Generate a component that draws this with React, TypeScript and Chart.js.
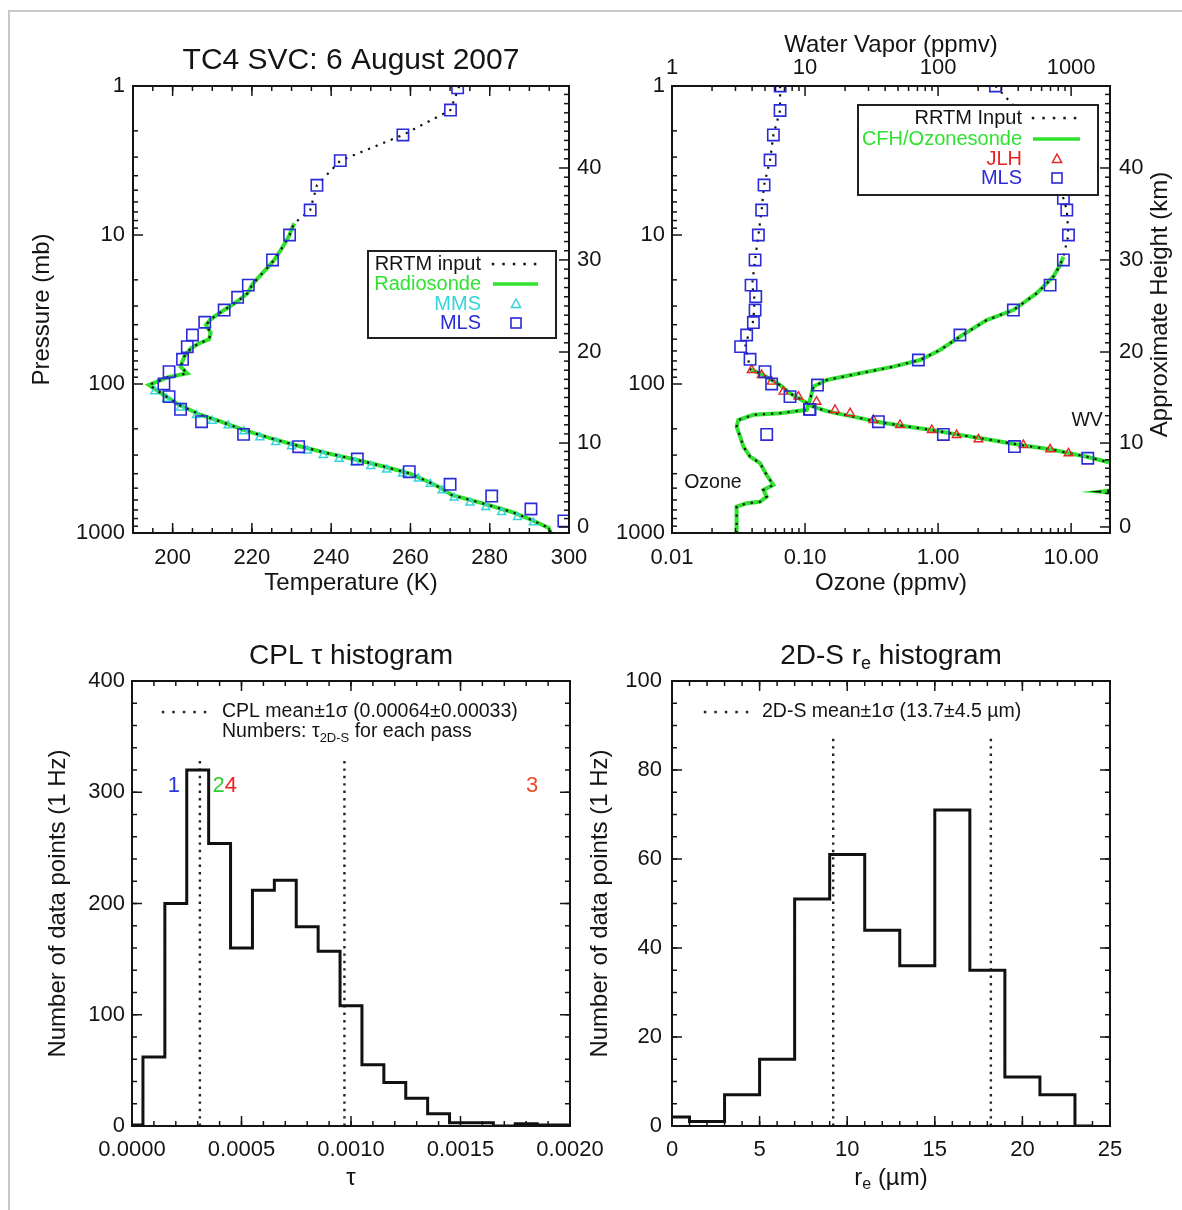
import React, { useEffect, useRef } from "react";
import { Chart, registerables } from "chart.js";

Chart.register(...registerables);

const FONT = '"Liberation Sans", Arial, Helvetica, sans-serif';
const INK = "#141414";
const BLUE = "#2a2ad8";
const GREEN = "#2fe22f";
const CYAN = "#36d4dc";
const RED = "#e82424";

// ================= Panel A : temperature profile =================
const tempTicks = [200, 220, 240, 260, 280, 300];
const tempTickLabels = ["200", "220", "240", "260", "280", "300"];
const pressureTicks = [1, 10, 100, 1000];
const pressureTickLabels = ["1", "10", "100", "1000"];
const heightKm = [0, 10, 20, 30, 40];
const heightPressure = [911, 249, 61, 14.7, 3.55];

const mlsTempP = [1.03, 1.45, 2.13, 3.17, 4.64, 6.8, 10, 14.7, 21.7, 26.2, 31.9, 38.5, 46.9, 56.2, 68.3, 82.7, 100, 121.6, 147.9, 179, 217.8, 263.5, 318.7, 387.8, 471, 565, 690, 830];
const mlsTempT = [271.9, 270.1, 258.1, 242.3, 236.4, 234.7, 229.5, 225.2, 219.1, 216.4, 213.0, 208.1, 205.0, 203.7, 202.5, 199.1, 197.8, 199.1, 202.0, 207.3, 217.9, 231.8, 246.6, 259.7, 270.0, 280.5, 290.4, 298.7];

const sondeP = [8.35, 9.0, 10, 11.5, 13.1, 14.7, 16.5, 19.1, 21.3, 24.6, 27.3, 30.3, 33.6, 36.8, 40.2, 45.2, 50.1, 53.3, 57.6, 65.6, 76.5, 84.8, 90.2, 101.6, 118.6, 138, 161.4, 179, 203.5, 231.7, 260.6, 291.9, 323.7, 359, 398, 453, 501, 556, 630, 723, 818, 925, 1000];
const sondeT = [230.7, 230.1, 229.5, 228.2, 226.9, 225.6, 224.0, 221.8, 220.2, 218.9, 216.8, 214.3, 211.7, 209.6, 208.4, 209.6, 209.2, 206.7, 204.6, 202.9, 202.0, 203.7, 198.7, 194.0, 197.8, 201.6, 207.1, 212.2, 217.9, 224.8, 231.8, 239.2, 246.6, 253.5, 259.7, 264.5, 267.8, 270.4, 278.0, 285.6, 290.6, 294.9, 295.4];

const rrtmTopP = [1.0, 1.45, 2.13, 3.17, 4.64, 6.8];
const rrtmTopT = [272.3, 270.1, 258.1, 242.3, 236.4, 234.7];

const mmsP = [112, 126, 144, 162, 177, 190, 208, 228, 246, 262, 280, 300, 318, 336, 356, 376, 400, 432, 468, 518, 580, 625, 672, 724, 782, 850];
const mmsT = [195.5, 198.5, 202, 206, 210, 214, 218, 222, 226, 230, 234, 238, 242, 246, 250, 254, 258, 262, 265, 268, 271, 275, 279, 283, 287, 291];

// ================= Panel B : ozone & water vapour =================
const o3Ticks = [0.01, 0.1, 1, 10];
const o3TickLabels = ["0.01", "0.10", "1.00", "10.00"];
const wvTicks = [1, 10, 100, 1000];
const wvTickLabels = ["1", "10", "100", "1000"];

const mlsWvP = [1.0, 1.46, 2.13, 3.14, 4.62, 6.8, 10, 14.7, 21.7, 25.9, 31.9, 38.7, 46.9, 56.1, 68.3, 82.7, 100, 121.6, 148, 179, 218, 263, 315];
const mlsWv = [6.5, 6.49, 5.78, 5.46, 4.92, 4.72, 4.46, 4.21, 3.93, 4.26, 4.21, 4.09, 3.64, 3.28, 3.86, 5.0, 5.61, 7.71, 10.9, 35.6, 109.6, 375, 1334];

const jlhP = [80.5, 87, 96.4, 112.5, 121.6, 131.5, 149.4, 157, 174.4, 188.5, 203.5, 220, 235, 256.6, 274.4, 291.9];
const jlhWv = [3.97, 4.72, 5.61, 6.87, 8.91, 12.2, 16.8, 21.8, 32.6, 51.8, 89.6, 138, 201, 438, 695, 955];

const cfhWvP = [79.7, 84.8, 92.5, 101.6, 115.6, 128, 140.6, 149.4, 155.7, 165.5, 179, 191.3, 203.6, 217.8, 235, 256.6, 274.4, 307.6, 337.3, 480, 515, 528, 540, 600, 1000];
const cfhWv = [3.86, 4.59, 5.46, 6.49, 7.71, 9.44, 11.2, 13.7, 16.3, 23.1, 34.6, 54.9, 89.6, 138, 232, 414, 695, 1312, 1964, 3200, 2100, 1650, 2200, 4000, 18000];

const rrtmWvTopP = [1.0, 1.46, 2.13, 3.14, 4.62, 6.8, 10, 14.7, 21.7, 25.9, 31.9, 38.7, 46.9, 56.1, 68.3, 75];
const rrtmWvTop = [6.5, 6.49, 5.78, 5.46, 4.92, 4.72, 4.46, 4.21, 4.0, 4.15, 4.15, 4.05, 3.75, 3.55, 3.75, 3.8];

const mlsO3P = [1.0, 1.46, 2.13, 3.14, 4.62, 5.67, 6.8, 10, 14.7, 21.7, 31.9, 46.9, 69, 101.6, 148, 218];
const mlsO3 = [2.7, 4.0, 5.3, 6.6, 7.9, 8.75, 9.28, 9.55, 8.75, 6.95, 3.68, 1.46, 0.711, 0.124, 0.108, 0.0515];

const o3SondeP = [1000, 930, 666, 632, 617, 570, 514, 476, 408, 340, 307, 263, 225, 193, 174.5, 161, 157, 149, 128, 104, 94, 84.8, 76.5, 69, 59.1, 48.1, 37.2, 31.9, 24.6, 19, 15.9, 14];
const o3Sonde = [0.0306, 0.0306, 0.0306, 0.0364, 0.0459, 0.0515, 0.0486, 0.0578, 0.0515, 0.0459, 0.0386, 0.0344, 0.0325, 0.0306, 0.0315, 0.0409, 0.0649, 0.103, 0.109, 0.1156, 0.1455, 0.259, 0.461, 0.732, 1.035, 1.46, 2.32, 3.68, 5.52, 7.36, 8.26, 8.75];

const rrtmO3TopP = [1.0, 1.46, 2.13, 3.14, 4.62, 5.67, 6.8, 10];
const rrtmO3Top = [2.7, 4.0, 5.3, 6.6, 7.9, 8.75, 9.28, 9.55];

const profileLabels = ["Ozone", "WV"];
const profileLabelO3 = [0.0203, 13.2];
const profileLabelP = [462, 177];

// ================= Panel C : CPL tau histogram =================
const tauBins = [0, 0.0001, 0.0002, 0.0003, 0.0004, 0.0005, 0.0006, 0.0007, 0.0008, 0.0009, 0.001, 0.0011, 0.0012, 0.0013, 0.0014, 0.0015, 0.0016, 0.0017, 0.0018, 0.0019, 0.002];
const tauCounts = [1, 62, 200, 320, 254, 160, 212, 221, 179, 157, 108, 55, 39, 25, 11, 3, 3, 0, 2, 1, 1];
const tauTicks = [0, 0.0005, 0.001, 0.0015, 0.002];
const tauTickLabels = ["0.0000", "0.0005", "0.0010", "0.0015", "0.0020"];
const countTicksC = [0, 100, 200, 300, 400];
const countLabelsC = ["0", "100", "200", "300", "400"];
const cplMean = 0.00064;
const cplSigma = 0.00033;
const cplLineTop = 330;
const passNumbers = ["1", "2", "4", "3"];
const passTau = [0.000191, 0.000396, 0.000451, 0.001827];
const passColors = ["#2a35dc", "#33cc33", "#ee2020", "#ea4a24"];
const passLabelY = 306;

// ================= Panel D : 2D-S re histogram =================
const reBins = [0, 2, 4, 6, 8, 10, 12, 14, 16, 18, 20, 22, 24];
const reCounts = [2, 1, 7, 15, 51, 61, 44, 36, 71, 35, 11, 7, 0];
const reTicks = [0, 5, 10, 15, 20, 25];
const reTickLabels = ["0", "5", "10", "15", "20", "25"];
const countTicksD = [0, 20, 40, 60, 80, 100];
const countLabelsD = ["0", "20", "40", "60", "80", "100"];
const reMean = 13.7;
const reSigma = 4.5;
const reLineTop = 88;

// ---------------- helpers ----------------
const pts = (xs: number[], ys: number[]) => xs.map((x, i) => ({ x, y: ys[i] }));

function logMinor(min: number, max: number) {
  const out: number[] = [];
  for (let e = Math.floor(Math.log10(min)); e <= Math.ceil(Math.log10(max)); e++)
    for (let m = 2; m <= 9; m++) {
      const v = m * Math.pow(10, e);
      if (v > min && v < max) out.push(v);
    }
  return out;
}
function steps(a: number, b: number, step: number) {
  const out: number[] = [];
  const n = Math.round((b - a) / step);
  for (let i = 0; i <= n; i++) out.push(a + i * step);
  return out;
}
function heightMinor() {
  const out: number[] = [];
  for (let km = 1; km <= 49; km++) {
    if (km % 10 === 0) continue;
    const seg = Math.min(Math.floor(km / 10), 3);
    const k0 = heightKm[seg], k1 = heightKm[seg + 1];
    const l0 = Math.log10(heightPressure[seg]), l1 = Math.log10(heightPressure[seg + 1]);
    const v = Math.pow(10, l0 + ((l1 - l0) * (km - k0)) / (k1 - k0));
    if (v > 1 && v < 1000) out.push(v);
  }
  return out;
}

function axis(o: any) {
  return {
    type: o.type || "linear",
    position: o.position,
    min: o.min,
    max: o.max,
    reverse: !!o.reverse,
    bounds: "data",
    grid: { display: false, drawTicks: false },
    border: { display: false },
    afterBuildTicks: (s: any) => {
      s.ticks = o.ticks.map((v: number) => ({ value: v }));
    },
    afterFit: (s: any) => {
      if (o.width !== undefined) s.width = o.width;
      if (o.height !== undefined) s.height = o.height;
      s.paddingLeft = 0;
      s.paddingRight = 0;
      s.paddingTop = 0;
      s.paddingBottom = 0;
    },
    ticks: {
      display: o.showLabels !== false,
      autoSkip: false,
      maxRotation: 0,
      minRotation: 0,
      padding: o.pad || 0,
      color: INK,
      font: { family: FONT, size: 22 },
      callback: (_v: any, i: number) => o.labels[i],
    },
    title: o.title
      ? { display: true, text: o.title, color: INK, font: { family: FONT, size: 24 }, padding: o.titlePad }
      : { display: false },
  };
}

type Side = "top" | "bottom" | "left" | "right";
interface TickSet { scale: string; side: Side; major: number[]; minor: number[] }

function drawFrameTicks(chart: any, sets: TickSet[]) {
  const { ctx, chartArea: a } = chart;
  ctx.save();
  ctx.strokeStyle = INK;
  ctx.lineWidth = 1.5;
  for (const s of sets) {
    const sc = chart.scales[s.scale];
    const draw = (v: number, len: number) => {
      const p = sc.getPixelForValue(v);
      ctx.beginPath();
      if (s.side === "bottom" || s.side === "top") {
        if (p < a.left - 0.5 || p > a.right + 0.5) return;
        const y0 = s.side === "bottom" ? a.bottom : a.top;
        const dir = s.side === "bottom" ? -1 : 1;
        ctx.moveTo(p, y0);
        ctx.lineTo(p, y0 + dir * len);
      } else {
        if (p < a.top - 0.5 || p > a.bottom + 0.5) return;
        const x0 = s.side === "left" ? a.left : a.right;
        const dir = s.side === "left" ? 1 : -1;
        ctx.moveTo(x0, p);
        ctx.lineTo(x0 + dir * len, p);
      }
      ctx.stroke();
    };
    s.major.forEach((v) => draw(v, 10));
    s.minor.forEach((v) => draw(v, 5));
  }
  ctx.lineWidth = 2;
  ctx.strokeRect(a.left, a.top, a.right - a.left, a.bottom - a.top);
  ctx.restore();
}

type Seg = { t: string; size: number; dy?: number };
function richText(ctx: any, segs: Seg[], x: number, y: number, align: "left" | "center" | "right", color = INK) {
  ctx.save();
  ctx.fillStyle = color;
  ctx.textBaseline = "middle";
  ctx.textAlign = "left";
  const widths = segs.map((s) => {
    ctx.font = `${s.size}px ${FONT}`;
    return ctx.measureText(s.t).width;
  });
  const total = widths.reduce((p, q) => p + q, 0);
  let cx = align === "left" ? x : align === "center" ? x - total / 2 : x - total;
  segs.forEach((s, i) => {
    ctx.font = `${s.size}px ${FONT}`;
    ctx.fillText(s.t, cx, y + (s.dy || 0));
    cx += widths[i];
  });
  ctx.restore();
}

function drawSample(ctx: any, kind: string, color: string, xl: number, xr: number, y: number, mx: number) {
  ctx.save();
  ctx.strokeStyle = color;
  ctx.fillStyle = color;
  if (kind === "dots") {
    for (let x = xl; x <= xr + 0.1; x += 10.5) ctx.fillRect(x - 1.2, y - 1.2, 2.5, 2.5);
  } else if (kind === "line") {
    ctx.lineWidth = 3.5;
    ctx.beginPath();
    ctx.moveTo(xl, y);
    ctx.lineTo(xr, y);
    ctx.stroke();
  } else if (kind === "triangle") {
    ctx.lineWidth = 1.5;
    ctx.beginPath();
    ctx.moveTo(mx, y - 5);
    ctx.lineTo(mx + 4.6, y + 3.5);
    ctx.lineTo(mx - 4.6, y + 3.5);
    ctx.closePath();
    ctx.stroke();
  } else if (kind === "square") {
    ctx.lineWidth = 1.6;
    ctx.strokeRect(mx - 5, y - 5, 10, 10);
  }
  ctx.restore();
}

function drawLegend(ctx: any, box: number[], labels: string[], colors: string[], kinds: string[], rowsY: number[], textRight: number, sl: number, sr: number, mx: number) {
  ctx.save();
  ctx.fillStyle = "#fff";
  ctx.fillRect(box[0], box[1], box[2] - box[0], box[3] - box[1]);
  ctx.strokeStyle = "#202020";
  ctx.lineWidth = 2;
  ctx.strokeRect(box[0], box[1], box[2] - box[0], box[3] - box[1]);
  ctx.font = `20px ${FONT}`;
  ctx.textAlign = "right";
  ctx.textBaseline = "middle";
  labels.forEach((lab, i) => {
    ctx.fillStyle = colors[i];
    ctx.fillText(lab, textRight, rowsY[i]);
    drawSample(ctx, kinds[i], colors[i], sl, sr, rowsY[i], mx);
  });
  ctx.restore();
}

// ---------------- chart builders ----------------
const baseOptions = (extra: any) => ({
  responsive: false,
  animation: false,
  devicePixelRatio: 1,
  events: [],
  ...extra,
});

function buildTemp() {
  const ticks: TickSet[] = [
    { scale: "x", side: "bottom", major: tempTicks, minor: steps(190, 300, 5) },
    { scale: "x", side: "top", major: tempTicks, minor: steps(190, 300, 5) },
    { scale: "y", side: "left", major: pressureTicks, minor: logMinor(1, 1000) },
    { scale: "y2", side: "right", major: heightPressure, minor: heightMinor() },
  ];
  return {
    type: "scatter",
    data: {
      datasets: [
        { label: "MLS", data: pts(mlsTempT, mlsTempP), showLine: false, pointStyle: "rect", pointRadius: 8, pointBorderWidth: 1.6, borderColor: BLUE, backgroundColor: "rgba(0,0,0,0)" },
        { label: "RRTM input", data: pts(rrtmTopT.concat(sondeT), rrtmTopP.concat(sondeP)), showLine: true, borderColor: "#111", borderWidth: 2.2, borderDash: [2.2, 6], pointRadius: 0 },
        { label: "MMS", data: pts(mmsT, mmsP), showLine: false, pointStyle: "triangle", pointRadius: 4.6, pointBorderWidth: 1.5, borderColor: CYAN, backgroundColor: "rgba(0,0,0,0)" },
        { label: "Radiosonde", data: pts(sondeT, sondeP), showLine: true, borderColor: GREEN, borderWidth: 4, pointRadius: 0 },
      ],
    },
    options: baseOptions({
      layout: { padding: 0 },
      plugins: {
        legend: { display: false },
        tooltip: { enabled: false },
        title: { display: true, text: "TC4 SVC: 6 August 2007", fullSize: false, color: INK, font: { family: FONT, size: 30, weight: "normal" }, padding: { top: 43, bottom: 7 } },
      },
      scales: {
        x: axis({ position: "bottom", min: 190, max: 300, ticks: tempTicks, labels: tempTickLabels, height: 77, pad: 12, title: "Temperature (K)", titlePad: { top: 0, bottom: 12.6 } }),
        y: axis({ type: "logarithmic", position: "left", min: 1, max: 1000, reverse: true, ticks: pressureTicks, labels: pressureTickLabels, width: 133, pad: 8, title: "Pressure (mb)", titlePad: { top: 27.6, bottom: 0 } }),
        y2: axis({ type: "logarithmic", position: "right", min: 1, max: 1000, reverse: true, ticks: heightPressure, labels: heightKm.map(String), width: 51, pad: 8 }),
      },
    }),
    plugins: [
      {
        id: "decorA",
        afterDraw(chart: any) {
          drawFrameTicks(chart, ticks);
          drawLegend(chart.ctx, [368, 251, 556, 338], ["RRTM input", "Radiosonde", "MMS", "MLS"], [INK, GREEN, CYAN, BLUE], ["dots", "line", "triangle", "square"], [264, 284, 304, 323], 481, 493, 538, 516);
        },
      },
    ],
  };
}

function buildTrace() {
  const ticks: TickSet[] = [
    { scale: "x", side: "bottom", major: o3Ticks, minor: logMinor(0.01, 19.6) },
    { scale: "x2", side: "top", major: wvTicks, minor: logMinor(1, 1960) },
    { scale: "y", side: "left", major: pressureTicks, minor: logMinor(1, 1000) },
    { scale: "y2", side: "right", major: heightPressure, minor: heightMinor() },
  ];
  return {
    type: "scatter",
    data: {
      datasets: [
        { label: "MLS O3", xAxisID: "x", data: pts(mlsO3, mlsO3P), showLine: false, pointStyle: "rect", pointRadius: 8, pointBorderWidth: 1.6, borderColor: BLUE, backgroundColor: "rgba(0,0,0,0)" },
        { label: "MLS WV", xAxisID: "x2", data: pts(mlsWv, mlsWvP), showLine: false, pointStyle: "rect", pointRadius: 8, pointBorderWidth: 1.6, borderColor: BLUE, backgroundColor: "rgba(0,0,0,0)" },
        { label: "JLH", xAxisID: "x2", data: pts(jlhWv, jlhP), showLine: false, pointStyle: "triangle", pointRadius: 5, pointBorderWidth: 1.4, borderColor: RED, backgroundColor: "rgba(0,0,0,0)" },
        { label: "RRTM O3", xAxisID: "x", data: pts(rrtmO3Top.concat(o3Sonde.slice().reverse()), rrtmO3TopP.concat(o3SondeP.slice().reverse())), showLine: true, borderColor: "#111", borderWidth: 2.2, borderDash: [2.2, 6], pointRadius: 0 },
        { label: "RRTM WV", xAxisID: "x2", data: pts(rrtmWvTop.concat(cfhWv), rrtmWvTopP.concat(cfhWvP)), showLine: true, borderColor: "#111", borderWidth: 2.2, borderDash: [2.2, 6], pointRadius: 0 },
        { label: "Ozonesonde", xAxisID: "x", data: pts(o3Sonde, o3SondeP), showLine: true, borderColor: GREEN, borderWidth: 4, pointRadius: 0 },
        { label: "CFH", xAxisID: "x2", data: pts(cfhWv, cfhWvP), showLine: true, borderColor: GREEN, borderWidth: 4, pointRadius: 0 },
      ],
    },
    options: baseOptions({
      layout: { padding: 0 },
      plugins: { legend: { display: false }, tooltip: { enabled: false }, title: { display: false } },
      scales: {
        x: axis({ type: "logarithmic", position: "bottom", min: 0.01, max: 19.6, ticks: o3Ticks, labels: o3TickLabels, height: 77, pad: 12, title: "Ozone (ppmv)", titlePad: { top: 0, bottom: 12.6 } }),
        x2: axis({ type: "logarithmic", position: "top", min: 1, max: 1960, ticks: wvTicks, labels: wvTickLabels, height: 86, pad: 4.8, title: "Water Vapor (ppmv)", titlePad: { top: 31, bottom: 0 } }),
        y: axis({ type: "logarithmic", position: "left", min: 1, max: 1000, reverse: true, ticks: pressureTicks, labels: pressureTickLabels, width: 102, pad: 7 }),
        y2: axis({ type: "logarithmic", position: "right", min: 1, max: 1000, reverse: true, ticks: heightPressure, labels: heightKm.map(String), width: 72, pad: 9 }),
      },
    }),
    plugins: [
      {
        id: "decorB",
        afterDraw(chart: any) {
          const { ctx, chartArea: a, scales } = chart;
          drawFrameTicks(chart, ticks);
          drawLegend(ctx, [288, 105, 528, 195], ["RRTM Input", "CFH/Ozonesonde", "JLH", "MLS"], [INK, GREEN, RED, BLUE], ["dots", "line", "triangle", "square"], [118, 139, 159, 178], 452, 463, 510, 487);
          ctx.save();
          ctx.fillStyle = INK;
          ctx.font = `19.5px ${FONT}`;
          ctx.textAlign = "center";
          ctx.textBaseline = "middle";
          profileLabels.forEach((t, i) => {
            ctx.fillText(t, scales.x.getPixelForValue(profileLabelO3[i]), scales.y.getPixelForValue(profileLabelP[i]));
          });
          ctx.translate(a.right + 50, (a.top + a.bottom) / 2 - 5);
          ctx.rotate(-Math.PI / 2);
          ctx.font = `24px ${FONT}`;
          ctx.fillText("Approximate Height (km)", 0, 0);
          ctx.restore();
        },
      },
    ],
  };
}

function buildTau() {
  const ticks: TickSet[] = [
    { scale: "x", side: "bottom", major: tauTicks, minor: steps(0, 0.002, 0.0001) },
    { scale: "x", side: "top", major: tauTicks, minor: steps(0, 0.002, 0.0001) },
    { scale: "y", side: "left", major: countTicksC, minor: steps(0, 400, 20) },
    { scale: "y", side: "right", major: countTicksC, minor: steps(0, 400, 20) },
  ];
  const lo = cplMean - cplSigma;
  const hi = cplMean + cplSigma;
  return {
    type: "line",
    data: {
      datasets: [
        { label: "hist", data: pts(tauBins, tauCounts), stepped: "middle", borderColor: "#111", borderWidth: 3, pointRadius: 0, fill: false },
        { label: "lo", data: pts([lo, lo], [0, cplLineTop]), borderColor: "#222", borderWidth: 2.4, borderDash: [2.4, 5], pointRadius: 0, fill: false },
        { label: "hi", data: pts([hi, hi], [0, cplLineTop]), borderColor: "#222", borderWidth: 2.4, borderDash: [2.4, 5], pointRadius: 0, fill: false },
      ],
    },
    options: baseOptions({
      layout: { padding: { left: 0, right: 50, top: 0, bottom: 0 } },
      plugins: {
        legend: { display: false },
        tooltip: { enabled: false },
        title: { display: true, text: "CPL τ histogram", fullSize: false, color: INK, font: { family: FONT, size: 28, weight: "normal" }, padding: { top: 29.2, bottom: 8.2 } },
      },
      scales: {
        x: axis({ position: "bottom", min: 0, max: 0.002, ticks: tauTicks, labels: tauTickLabels, height: 84, pad: 10.8, title: "τ", titlePad: { top: 0, bottom: 17.6 } }),
        y: axis({ position: "left", min: 0, max: 400, ticks: countTicksC, labels: countLabelsC, width: 132, pad: 7, title: "Number of data points (1 Hz)", titlePad: { top: 43.6, bottom: 0 } }),
      },
    }),
    plugins: [
      {
        id: "decorC",
        afterDraw(chart: any) {
          const { ctx, scales } = chart;
          drawFrameTicks(chart, ticks);
          drawSample(ctx, "dots", "#222", 163, 208, 102, 0);
          richText(ctx, [{ t: "CPL mean±1σ (0.00064±0.00033)", size: 19.5 }], 222, 102, "left");
          richText(ctx, [{ t: "Numbers: τ", size: 19.5 }, { t: "2D-S", size: 13, dy: 6 }, { t: " for each pass", size: 19.5 }], 222, 122, "left");
          ctx.save();
          ctx.font = `22px ${FONT}`;
          ctx.textAlign = "center";
          ctx.textBaseline = "middle";
          passNumbers.forEach((t, i) => {
            ctx.fillStyle = passColors[i];
            ctx.fillText(t, scales.x.getPixelForValue(passTau[i]), scales.y.getPixelForValue(passLabelY));
          });
          ctx.restore();
        },
      },
    ],
  };
}

function buildRe() {
  const ticks: TickSet[] = [
    { scale: "x", side: "bottom", major: reTicks, minor: steps(0, 25, 1) },
    { scale: "x", side: "top", major: reTicks, minor: steps(0, 25, 1) },
    { scale: "y", side: "left", major: countTicksD, minor: steps(0, 100, 5) },
    { scale: "y", side: "right", major: countTicksD, minor: steps(0, 100, 5) },
  ];
  const lo = reMean - reSigma;
  const hi = reMean + reSigma;
  return {
    type: "line",
    data: {
      datasets: [
        { label: "hist", data: pts(reBins, reCounts), stepped: "middle", borderColor: "#111", borderWidth: 3, pointRadius: 0, fill: false },
        { label: "lo", data: pts([lo, lo], [0, reLineTop]), borderColor: "#222", borderWidth: 2.4, borderDash: [2.4, 5], pointRadius: 0, fill: false },
        { label: "hi", data: pts([hi, hi], [0, reLineTop]), borderColor: "#222", borderWidth: 2.4, borderDash: [2.4, 5], pointRadius: 0, fill: false },
      ],
    },
    options: baseOptions({
      layout: { padding: { left: 0, right: 72, top: 71, bottom: 0 } },
      plugins: { legend: { display: false }, tooltip: { enabled: false }, title: { display: false } },
      scales: {
        x: axis({ position: "bottom", min: 0, max: 25, ticks: reTicks, labels: reTickLabels, height: 84, pad: 10.8 }),
        y: axis({ position: "left", min: 0, max: 100, ticks: countTicksD, labels: countLabelsD, width: 102, pad: 10, title: "Number of data points (1 Hz)", titlePad: { top: 15.6, bottom: 0 } }),
      },
    }),
    plugins: [
      {
        id: "decorD",
        afterDraw(chart: any) {
          const { ctx, chartArea: a } = chart;
          drawFrameTicks(chart, ticks);
          const cx = (a.left + a.right) / 2;
          richText(ctx, [{ t: "2D-S r", size: 28 }, { t: "e", size: 18, dy: 8 }, { t: " histogram", size: 28 }], cx, 46, "center");
          richText(ctx, [{ t: "r", size: 24 }, { t: "e", size: 16, dy: 7 }, { t: " (µm)", size: 24 }], cx, 568, "center");
          drawSample(ctx, "dots", "#222", 135, 180, 102, 0);
          richText(ctx, [{ t: "2D-S mean±1σ (13.7±4.5 µm)", size: 19.5 }], 192, 102, "left");
        },
      },
    ],
  };
}

function ChartBox(props: { left: number; top: number; width: number; height: number; build: () => any }) {
  const ref = useRef<HTMLCanvasElement>(null);
  useEffect(() => {
    Chart.defaults.font.family = FONT;
    const chart = new Chart(ref.current as HTMLCanvasElement, props.build());
    return () => chart.destroy();
  }, []);
  return (
    <div style={{ position: "absolute", left: props.left, top: props.top, width: props.width, height: props.height }}>
      <canvas ref={ref} width={props.width} height={props.height} style={{ width: props.width, height: props.height, display: "block" }} />
    </div>
  );
}

export default function App() {
  return (
    <div style={{ position: "absolute", left: 0, top: 0, width: 1182, height: 1210, overflow: "hidden", background: "#fff" }}>
      <div style={{ position: "absolute", left: 8, top: 10, width: 1300, height: 1300, borderLeft: "2px solid #c8c8c8", borderTop: "2px solid #c8c8c8" }} />
      <ChartBox left={0} top={0} width={620} height={610} build={buildTemp} />
      <ChartBox left={570} top={0} width={612} height={610} build={buildTrace} />
      <ChartBox left={0} top={610} width={620} height={600} build={buildTau} />
      <ChartBox left={570} top={610} width={612} height={600} build={buildRe} />
    </div>
  );
}
